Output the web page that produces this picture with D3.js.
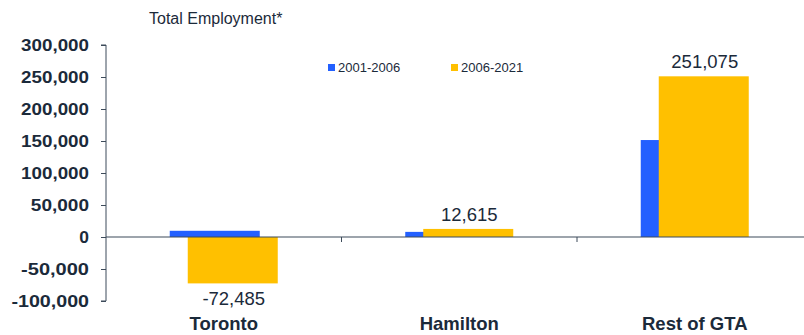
<!DOCTYPE html>
<html>
<head>
<meta charset="utf-8">
<script src="https://cdn.jsdelivr.net/npm/d3@7"></script>
<style>
  body { margin: 0; background: #fff; }
  text { font-family: "Liberation Sans", Arial, sans-serif; fill: #1b2a3a; }
</style>
</head>
<body>
<div id="chart"></div>
<script>
// chart data
var regions = ['Toronto', 'Hamilton', 'Rest of GTA'];
var seriesNames = ['2001-2006', '2006-2021'];
var change0106 = [9700, 8000, 151500];
var change0621 = [-72485, 12615, 251075];
var yTicks = [-100000, -50000, 0, 50000, 100000, 150000, 200000, 250000, 300000];

var svgWidth = 804;
var svgHeight = 335;
var colors = ['#2360ff', '#ffc000'];
// plain hyphen for negatives, like the original
var fmt = d3.formatLocale({ decimal: '.', thousands: ',', grouping: [3], currency: ['', ''], minus: '-' }).format(',');

var svg = d3.select('#chart')
  .append('svg')
  .attr('width', svgWidth)
  .attr('height', svgHeight);

var axisX = 106;

var xScale = d3.scaleBand()
  .domain(regions)
  .range([axisX, axisX + 3 * 235.5]);

var yScale = d3.scaleLinear()
  .domain([-100000, 300000])
  .range([301, 45]);

// title
svg.append('text')
  .attr('x', 149)
  .attr('y', 24)
  .style('font-size', '16px')
  .text('Total Employment*');

// legend
var legendX = [328, 451];
seriesNames.forEach(function(name, i) {
  svg.append('rect')
    .attr('x', legendX[i])
    .attr('y', 64)
    .attr('width', 7)
    .attr('height', 7)
    .attr('fill', colors[i]);
  svg.append('text')
    .attr('x', legendX[i] + 10)
    .attr('y', 72)
    .style('font-size', '13px')
    .text(name);
});

// bars - blue drawn first so the yellow one sits over it
var barWidth = 90;
var offsets = [-54, -36];
[change0106, change0621].forEach(function(values, s) {
  svg.selectAll('.bar' + s)
    .data(values)
    .enter()
    .append('rect')
    .attr('class', 'bar' + s)
    .attr('x', (d, i) => xScale(regions[i]) + xScale.bandwidth() / 2 + offsets[s])
    .attr('y', d => yScale(Math.max(0, d)))
    .attr('width', barWidth)
    .attr('height', d => Math.abs(yScale(d) - yScale(0)))
    .attr('fill', colors[s]);
});

// value labels on the 2006-2021 bars
svg.selectAll('.valueText')
  .data(change0621)
  .enter()
  .append('text')
  .attr('class', 'valueText')
  .attr('x', (d, i) => xScale(regions[i]) + xScale.bandwidth() / 2 + offsets[1] + barWidth / 2 + 1)
  .attr('y', d => d < 0 ? yScale(d) + 22 : yScale(d) - 8)
  .attr('text-anchor', 'middle')
  .style('font-size', '18.5px')
  .text(d => fmt(d));

// y axis
var yAxis = d3.axisLeft(yScale)
  .tickValues(yTicks)
  .tickSize(5)
  .tickFormat(fmt);

var yAxisGroup = svg.append('g')
  .attr('class', 'y-axis')
  .attr('transform', `translate(${axisX}, 0)`)
  .call(yAxis);

yAxisGroup.select('.domain')
  .attr('stroke', '#3d4b5a')
  .attr('d', 'M-5,45H0V301H-5');
yAxisGroup.selectAll('.tick line').attr('stroke', '#3d4b5a');
yAxisGroup.selectAll('.tick text')
  .attr('x', -17)
  .style('font-size', '17px')
  .style('font-weight', 'bold')
  .style('font-family', '"Liberation Sans", Arial, sans-serif')
  .attr('fill', '#1b2a3a')
  .attr('textLength', function() { return this.textContent.length * 9.7; })
  .attr('lengthAdjust', 'spacingAndGlyphs');

// zero line with category ticks
var zeroY = yScale(0);
svg.append('line')
  .attr('x1', axisX)
  .attr('x2', svgWidth)
  .attr('y1', zeroY)
  .attr('y2', zeroY)
  .attr('stroke', '#3d4b5a')
  .attr('stroke-width', 1.2);

svg.selectAll('.catTick')
  .data(regions.slice(1))
  .enter()
  .append('line')
  .attr('class', 'catTick')
  .attr('x1', d => xScale(d))
  .attr('x2', d => xScale(d))
  .attr('y1', zeroY)
  .attr('y2', zeroY + 5)
  .attr('stroke', '#3d4b5a');

// category labels
svg.selectAll('.catText')
  .data(regions)
  .enter()
  .append('text')
  .attr('class', 'catText')
  .attr('x', d => xScale(d) + xScale.bandwidth() / 2)
  .attr('y', 330)
  .attr('text-anchor', 'middle')
  .style('font-size', '18.5px')
  .style('font-weight', 'bold')
  .text(d => d);
</script>
</body>
</html>
